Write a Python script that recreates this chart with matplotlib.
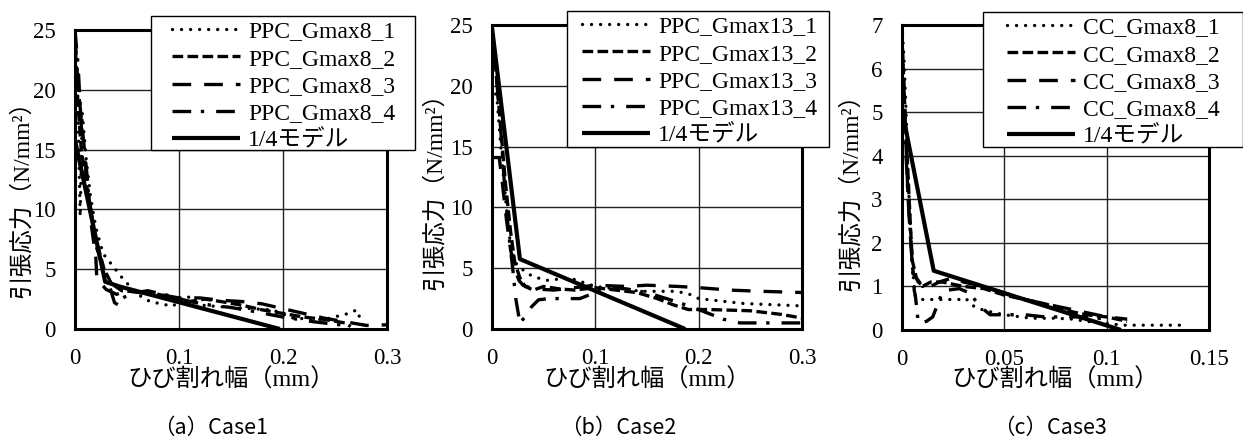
import numpy as np
import matplotlib
matplotlib.use("Agg")
import matplotlib.pyplot as plt
from matplotlib.patches import Rectangle
from matplotlib.ticker import FuncFormatter, MultipleLocator

MIX = ["Liberation Serif", "Noto Sans CJK JP"]
plt.rcParams["font.family"] = MIX
plt.rcParams["axes.unicode_minus"] = False

# ---- (a) Case1 ----
a_labels = ["PPC_Gmax8_1", "PPC_Gmax8_2", "PPC_Gmax8_3", "PPC_Gmax8_4"]
a1_x = [0, 0.002, 0.005, 0.007, 0.0105, 0.015, 0.02, 0.027, 0.037, 0.046, 0.06, 0.072, 0.094, 0.107, 0.12, 0.15, 0.19, 0.21, 0.24, 0.263, 0.271, 0.277]
a1_y = [24, 21.9, 9.4, 18.1, 14.4, 11, 8.5, 6.3, 5.2, 4.2, 2.9, 2.3, 1.9, 2.8, 2.0, 1.8, 1.6, 0.9, 0.8, 1.3, 1.6, 0.2]
a2_x = [0, 0.002, 0.006, 0.012, 0.02, 0.028, 0.035, 0.045, 0.06, 0.075, 0.09, 0.11, 0.125, 0.14, 0.16, 0.18, 0.2, 0.22, 0.24, 0.26, 0.265]
a2_y = [24.5, 20, 15, 11.5, 7.5, 5.0, 3.8, 3.2, 3.1, 3.0, 2.7, 2.3, 2.5, 2.3, 2.0, 1.6, 1.3, 1.0, 0.8, 0.5, 0.2]
a3_x = [0, 0.003, 0.0077, 0.012, 0.016, 0.02, 0.021, 0.025, 0.03, 0.04, 0.05, 0.065, 0.08, 0.1, 0.12, 0.14, 0.16, 0.18, 0.2, 0.22, 0.24, 0.26, 0.28, 0.3]
a3_y = [24.5, 20.2, 16.2, 12.5, 8.5, 6.0, 4.2, 3.8, 3.3, 2.9, 3.2, 3.0, 2.9, 2.6, 2.6, 2.4, 2.3, 2.1, 1.7, 1.3, 0.9, 0.6, 0.3, 0.35]
a4_x = [0, 0.003, 0.006, 0.012, 0.02, 0.03, 0.038, 0.042, 0.046, 0.055, 0.07, 0.09, 0.11, 0.13, 0.15, 0.17, 0.2, 0.23, 0.25, 0.26]
a4_y = [25, 22, 17, 12, 7, 4.5, 2.2, 2.0, 2.6, 3.0, 3.2, 2.8, 2.3, 2.0, 1.8, 1.5, 1.0, 0.6, 0.4, 0.3]
a_model_x = [0, 0.029, 0.043, 0.197]
a_model_y = [15.8, 3.95, 3.55, 0]

# ---- (b) Case2 ----
b_labels = ["PPC_Gmax13_1", "PPC_Gmax13_2", "PPC_Gmax13_3", "PPC_Gmax13_4"]
b1_x = [0, 0.003, 0.005, 0.009, 0.0145, 0.0174, 0.022, 0.032, 0.04, 0.053, 0.075, 0.1, 0.12, 0.146, 0.178, 0.19, 0.2, 0.243, 0.3]
b1_y = [20, 19.5, 18.8, 14.5, 9.5, 7.3, 5.5, 4.7, 4.3, 4.0, 4.2, 3.5, 3.3, 3.1, 3.1, 2.9, 2.5, 2.1, 1.9]
b2_x = [0, 0.003, 0.008, 0.013, 0.018, 0.022, 0.027, 0.032, 0.04, 0.05, 0.065, 0.08, 0.1, 0.12, 0.14, 0.16, 0.175, 0.19, 0.21, 0.25, 0.28, 0.3]
b2_y = [24.5, 22, 17, 12, 8, 5.5, 4.2, 3.5, 3.2, 3.5, 3.3, 3.2, 3.4, 3.2, 3.0, 2.5, 2.0, 1.6, 1.6, 1.5, 1.2, 0.9]
b3_x = [0, 0.007, 0.01, 0.014, 0.018, 0.022, 0.026, 0.03, 0.04, 0.06, 0.08, 0.1, 0.13, 0.15, 0.18, 0.2, 0.23, 0.26, 0.3]
b3_y = [14.1, 14.1, 12, 9, 6.5, 5, 4.0, 3.6, 3.3, 3.2, 3.4, 3.6, 3.5, 3.6, 3.5, 3.4, 3.2, 3.1, 3.0]
b4_x = [0, 0.004, 0.008, 0.012, 0.016, 0.02, 0.023, 0.027, 0.032, 0.038, 0.045, 0.055, 0.07, 0.085, 0.1, 0.11, 0.13, 0.15, 0.165, 0.18, 0.2, 0.224, 0.24, 0.27, 0.3]
b4_y = [24, 21, 17, 12, 8, 5, 2.5, 0.5, 1.0, 1.8, 2.4, 2.5, 2.5, 2.5, 3.0, 3.4, 3.3, 3.0, 2.6, 2.2, 1.6, 0.8, 0.5, 0.5, 0.5]
b_model_x = [0, 0.027, 0.187]
b_model_y = [24.8, 5.75, 0]

# ---- (c) Case3 ----
c_labels = ["CC_Gmax8_1", "CC_Gmax8_2", "CC_Gmax8_3", "CC_Gmax8_4"]
c1_x = [0, 0.001, 0.002, 0.003, 0.004, 0.005, 0.0064, 0.01, 0.02, 0.029, 0.031, 0.035, 0.04, 0.05, 0.063, 0.075, 0.083, 0.09, 0.1, 0.108, 0.12, 0.139]
c1_y = [7.0, 6.2, 5.0, 3.5, 2.5, 1.5, 0.77, 0.7, 0.7, 0.7, 0.73, 0.55, 0.45, 0.35, 0.27, 0.27, 0.25, 0.2, 0.15, 0.11, 0.11, 0.11]
c2_x = [0, 0.001, 0.002, 0.003, 0.004, 0.005, 0.007, 0.01, 0.014, 0.02, 0.03, 0.04, 0.05, 0.06, 0.07, 0.08, 0.09, 0.1, 0.11]
c2_y = [6.8, 5.5, 4.5, 3.5, 2.5, 1.6, 1.2, 1.0, 1.1, 1.1, 1.0, 0.95, 0.8, 0.7, 0.6, 0.45, 0.35, 0.3, 0.2]
c3_x = [0, 0.001, 0.002, 0.003, 0.004, 0.0055, 0.008, 0.012, 0.018, 0.025, 0.03, 0.04, 0.05, 0.06, 0.07, 0.08, 0.09, 0.1, 0.11]
c3_y = [6.5, 5.5, 4.2, 3.0, 2.2, 1.3, 1.1, 0.95, 1.1, 1.2, 1.1, 1.0, 0.85, 0.7, 0.6, 0.5, 0.4, 0.3, 0.25]
c4_x = [0, 0.001, 0.002, 0.003, 0.004, 0.005, 0.006, 0.0065, 0.008, 0.012, 0.015, 0.02, 0.028, 0.033, 0.038, 0.043, 0.05, 0.06, 0.07, 0.08, 0.09, 0.1]
c4_y = [6.0, 5.0, 4.0, 3.0, 2.3, 1.5, 0.9, 0.8, 0.15, 0.2, 0.3, 0.9, 0.95, 0.85, 0.55, 0.35, 0.35, 0.35, 0.3, 0.3, 0.3, 0.25]
c_model_x = [0, 0.0155, 0.107]
c_model_y = [5.05, 1.36, 0]

model_label = "1/4モデル"
captions = ["（a）Case1", "（b）Case2", "（c）Case3"]
xlabel = "ひび割れ幅（mm）"
ylabel = "引張応力（N/mm²）"

# line styles for the four measured series
STYLES = [
    dict(dashes=(0.01, 2.7), dash_capstyle="round"),
    dict(dashes=(3.2, 1.3)),
    dict(dashes=(5.6, 3.9)),
    dict(dashes=(5.6, 2.9, 1.0, 3.6)),
]

panels = [
    dict(series=[(a1_x, a1_y), (a2_x, a2_y), (a3_x, a3_y), (a4_x, a4_y)],
         model=(a_model_x, a_model_y), labels=a_labels,
         xmax=0.3, xstep=0.1, ymax=25, ystep=5,
         rect=[75, 30, 387, 329], legend_at=(172, 21), frame=(151, 16, 415, 150),
         ylab_x=-53, ylab_c=193, cap_x=211),
    dict(series=[(b1_x, b1_y), (b2_x, b2_y), (b3_x, b3_y), (b4_x, b4_y)],
         model=(b_model_x, b_model_y), labels=b_labels,
         xmax=0.3, xstep=0.1, ymax=25, ystep=5,
         rect=[492, 25, 802, 329], legend_at=(582, 16), frame=(567, 11, 829, 147),
         ylab_x=-57, ylab_c=185, cap_x=618),
    dict(series=[(c1_x, c1_y), (c2_x, c2_y), (c3_x, c3_y), (c4_x, c4_y)],
         model=(c_model_x, c_model_y), labels=c_labels,
         xmax=0.15, xstep=0.05, ymax=7, ystep=1,
         rect=[902, 25, 1209, 330], legend_at=(1007, 17), frame=(983, 12, 1243, 147),
         ylab_x=-51, ylab_c=186, cap_x=1050),
]

W, H = 1243, 442
fig = plt.figure(figsize=(W / 100, H / 100), dpi=100)

for p, cap in zip(panels, captions):
    l, t, r, b = p["rect"]
    ax = fig.add_axes([l / W, 1 - b / H, (r - l) / W, (b - t) / H])
    for (x, y), lab, sty in zip(p["series"], p["labels"], STYLES):
        ax.plot(x, y, color="black", lw=2.4, label=lab, **sty)
    ax.plot(p["model"][0], p["model"][1], color="black", lw=3.0,
            solid_capstyle="butt", label=model_label)

    ax.set_xlim(0, p["xmax"])
    ax.set_ylim(0, p["ymax"])
    ax.xaxis.set_major_locator(MultipleLocator(p["xstep"]))
    ax.yaxis.set_major_locator(MultipleLocator(p["ystep"]))
    ax.xaxis.set_major_formatter(FuncFormatter(lambda v, pos: f"{v:g}"))
    ax.yaxis.set_major_formatter(FuncFormatter(lambda v, pos: f"{v:g}"))
    ax.tick_params(length=0, pad=14, labelsize=16.5)
    ax.grid(True, color="#222222", lw=1.0)
    ax.set_axisbelow(True)
    for s in ax.spines.values():
        s.set_linewidth(2.2)
        s.set_color("black")

    hpx = b - t
    wpx = r - l
    ax.set_xlabel(xlabel, fontsize=17.5)
    ax.xaxis.set_label_coords(0.5, -(369 - b) / hpx)
    ax.set_ylabel(ylabel, fontsize=17, va="center")
    ax.yaxis.set_label_coords(p["ylab_x"] / wpx, (b - p["ylab_c"]) / hpx)

    # legend box
    fx0, fy0, fx1, fy1 = p["frame"]
    fig.add_artist(Rectangle((fx0 / W, 1 - fy1 / H), (fx1 - fx0) / W, (fy1 - fy0) / H,
                             transform=fig.transFigure, facecolor="white",
                             edgecolor="black", lw=1.0, zorder=4))
    h, lb = ax.get_legend_handles_labels()
    lx, ly = p["legend_at"]
    fig.legend(h, lb, loc="upper left", bbox_to_anchor=(lx / W, 1 - ly / H),
               bbox_transform=fig.transFigure, frameon=False, borderpad=0,
               borderaxespad=0, handlelength=2.9, handletextpad=0.33,
               labelspacing=0.24, prop={"family": MIX, "size": 17})

    fig.text(p["cap_x"] / W, 1 - 428 / H, cap, ha="center", va="center",
             family="Noto Sans CJK JP", fontsize=15.5)

fig.savefig("out.png", dpi=100)
